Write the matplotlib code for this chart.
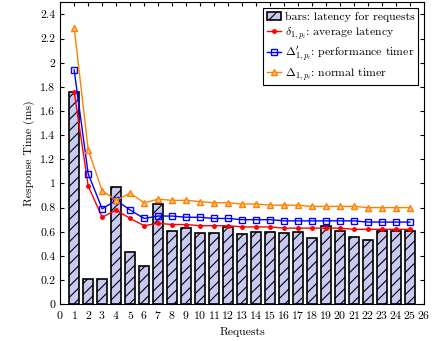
import numpy as np
import matplotlib
matplotlib.use("Agg")
import matplotlib.pyplot as plt

plt.rcParams["font.family"] = "serif"
plt.rcParams["font.serif"] = ["cmr10", "DejaVu Serif"]
plt.rcParams["mathtext.fontset"] = "cm"
plt.rcParams["axes.formatter.use_mathtext"] = True
plt.rcParams["hatch.linewidth"] = 0.8

requests = list(range(1, 26))
bars = [1.76, 0.21, 0.21, 0.97, 0.43, 0.32, 0.83, 0.61, 0.63, 0.59, 0.59, 0.64, 0.58,
        0.60, 0.60, 0.59, 0.60, 0.55, 0.65, 0.61, 0.56, 0.53, 0.61, 0.61, 0.61]
avg_latency = [1.76, 0.98, 0.72, 0.78, 0.71, 0.65, 0.67, 0.66, 0.66, 0.65, 0.65, 0.65, 0.64,
               0.64, 0.64, 0.63, 0.63, 0.63, 0.63, 0.63, 0.62, 0.62, 0.62, 0.62, 0.62]
perf_timer = [1.94, 1.08, 0.79, 0.86, 0.78, 0.71, 0.73, 0.73, 0.72, 0.72, 0.71, 0.71, 0.70,
              0.70, 0.70, 0.69, 0.69, 0.69, 0.69, 0.69, 0.69, 0.68, 0.68, 0.68, 0.68]
normal_timer = [2.29, 1.28, 0.94, 0.86, 0.92, 0.84, 0.87, 0.86, 0.86, 0.85, 0.84, 0.84, 0.83,
                0.83, 0.82, 0.82, 0.82, 0.81, 0.81, 0.81, 0.81, 0.80, 0.80, 0.80, 0.80]

fig = plt.figure(figsize=(4.33, 3.41), dpi=100)
ax = fig.add_axes([0.139, 0.108, 0.840, 0.885])

b = ax.bar(requests, bars, width=0.72, color="#c8caf2", edgecolor="black", linewidth=1.2,
           hatch="///", label="bars: latency for requests", zorder=2)
l1, = ax.plot(requests, avg_latency, color="red", marker="o", markersize=2.5, linewidth=1,
              label=r"$\delta_{1,p_i}$: average latency", zorder=3)
l2, = ax.plot(requests, perf_timer, color="blue", marker="s", markersize=4.5,
              markerfacecolor="none", linewidth=1,
              label=r"$\Delta^{\prime}_{1,p_i}$: performance timer", zorder=3)
l3, = ax.plot(requests, normal_timer, color="#ff8000", marker="^", markersize=4.5,
              markerfacecolor="#ffc080", linewidth=1,
              label=r"$\Delta_{1,p_i}$: normal timer", zorder=3)

ax.set_xlim(0, 26)
ax.set_ylim(0, 2.5)
ax.set_xticks(range(0, 27))
yt = np.round(np.arange(0, 2.41, 0.2), 1)
ax.set_yticks(yt)
ax.set_yticklabels(["%g" % v for v in yt])
ax.tick_params(direction="in", top=True, right=True, labelsize=8.5, length=3)
ax.set_xlabel("Requests", fontsize=8.5)
ax.set_ylabel("Response Time (ms)", fontsize=8.5)

leg = ax.legend(handles=[b, l1, l2, l3], loc="upper right", fontsize=8.5, fancybox=False,
                edgecolor="black", framealpha=1, handlelength=1.2, handletextpad=0.3,
                borderpad=0.3, labelspacing=0.25, borderaxespad=0.5)
leg.get_frame().set_linewidth(0.8)

fig.savefig("out.png", dpi=100)
